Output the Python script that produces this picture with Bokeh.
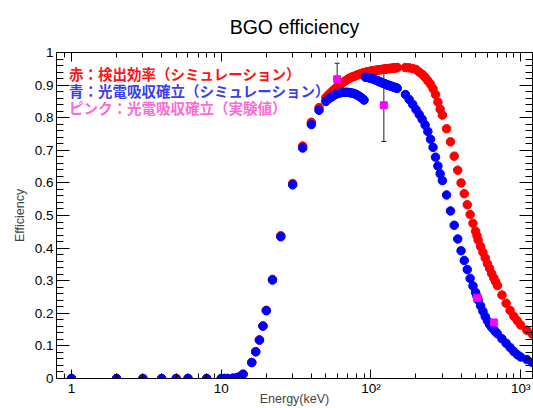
from bokeh.plotting import figure
from bokeh.models import (FixedTicker, Label, Whisker, ColumnDataSource, TeeHead,
                          LinearAxis, LogAxis, Range1d)
from bokeh.embed import file_html
from bokeh.resources import INLINE

# Simulated BGO response: energy grid (keV)
energy_keV = [1, 2, 3, 4, 5, 6, 8, 10, 10.5, 11, 12, 12.8, 13.4, 14, 16, 17, 18, 19, 20, 22, 25, 30, 35, 40, 45,
              50, 52, 54, 56, 58, 60, 62, 64, 66, 68, 70, 72, 74, 76, 78, 80, 82, 84, 86, 88, 90,
              92, 94, 96, 98, 100, 102, 104, 106, 108, 110, 112, 114, 116, 118, 120, 122, 124, 126, 128,
              130, 132, 134, 136, 138, 140, 142, 144, 146, 148, 150,
              170, 180, 190, 200, 210, 220, 230, 240, 250, 260, 270, 280, 290, 300,
              320, 340, 360, 380, 400, 420, 440, 460, 480, 500, 511, 520, 540, 560, 580, 600,
              620, 640, 662, 680, 700, 750, 800, 850, 900, 950, 1000, 1100, 1200]

# detection efficiency (red)
detect_eff = [0, 0, 0, 0, 0, 0, 0, 0, 0, 0, 0.001, 0.003, 0.006, 0.013, 0.049, 0.082, 0.118, 0.161, 0.209, 0.304, 0.438, 0.598, 0.713, 0.786, 0.831,
              0.862, 0.870, 0.877, 0.884, 0.890, 0.896, 0.901, 0.906, 0.910, 0.914, 0.918, 0.921, 0.924, 0.926, 0.928, 0.930, 0.932, 0.934, 0.935, 0.937, 0.938,
              0.939, 0.940, 0.941, 0.942, 0.943, 0.943, 0.944, 0.945, 0.945, 0.946, 0.946, 0.947, 0.947, 0.948, 0.948, 0.949, 0.949, 0.950, 0.950,
              0.950, 0.951, 0.951, 0.951, 0.952, 0.952, 0.952, 0.953, 0.953, 0.953, 0.954,
              0.954, 0.953, 0.951, 0.948, 0.940, 0.933, 0.924, 0.913, 0.903, 0.889, 0.871, 0.848, 0.826, 0.808,
              0.766, 0.726, 0.682, 0.639, 0.600, 0.567, 0.533, 0.503, 0.476, 0.452, 0.438, 0.425, 0.405, 0.387, 0.370, 0.352,
              0.338, 0.322, 0.308, 0.297, 0.285, 0.256, 0.231, 0.209, 0.191, 0.177, 0.164, 0.148, 0.136]

# photo-absorption probability (blue)
photo_eff = [0, 0, 0, 0, 0, 0, 0, 0, 0, 0, 0.001, 0.003, 0.006, 0.013, 0.049, 0.082, 0.118, 0.161, 0.208, 0.302, 0.435, 0.594, 0.707, 0.779, 0.823,
             0.850, 0.857, 0.862, 0.867, 0.871, 0.874, 0.876, 0.878, 0.878, 0.878, 0.878, 0.877, 0.876, 0.875, 0.873, 0.871, 0.868, 0.865, 0.862, 0.858, 0.854,
             0.924, 0.924, 0.923, 0.922, 0.921, 0.920, 0.918, 0.917, 0.915, 0.914, 0.912, 0.911, 0.909, 0.908, 0.906, 0.905, 0.904, 0.902, 0.901,
             0.900, 0.899, 0.898, 0.897, 0.896, 0.895, 0.894, 0.893, 0.892, 0.891, 0.890,
             0.871, 0.856, 0.841, 0.825, 0.810, 0.795, 0.778, 0.758, 0.734, 0.709, 0.679, 0.652, 0.628, 0.607,
             0.563, 0.514, 0.470, 0.428, 0.392, 0.362, 0.334, 0.307, 0.284, 0.264, 0.252, 0.241, 0.223, 0.206, 0.190, 0.177,
             0.166, 0.157, 0.150, 0.143, 0.137, 0.122, 0.108, 0.095, 0.083, 0.073, 0.066, 0.058, 0.049]

# measured photo-absorption (pink) with uncertainties
exp_energy = [59.5, 122, 511, 662]
exp_eff = [0.918, 0.838, 0.248, 0.172]
exp_err = [0.049, 0.111, 0.0, 0.0]

y_ticks = [0, 0.1, 0.2, 0.3, 0.4, 0.5, 0.6, 0.7, 0.8, 0.9, 1.0]
y_tick_labels = {0: "0", 0.1: "0.1", 0.2: "0.2", 0.3: "0.3", 0.4: "0.4", 0.5: "0.5",
                 0.6: "0.6", 0.7: "0.7", 0.8: "0.8", 0.9: "0.9", 1.0: "1"}
x_ticks = [1, 10, 100, 1000]
x_tick_labels = {1: "1", 10: "10", 100: "10\u00b2", 1000: "10\u00b3"}

legend_lines = ["赤：検出効率（シミュレーション）",
                "青：光電吸収確立（シミュレーション）",
                "ピンク：光電吸収確立（実験値）"]
legend_colors = ["#ff1414", "#3c3cf2", "#ff6ad2"]

FONT = "Liberation Sans"

p = figure(width=533, height=408, x_axis_type="log",
           x_range=Range1d(0.794, 1200), y_range=Range1d(0, 1),
           output_backend="svg", toolbar_location=None,
           min_border_left=56, min_border_right=1, min_border_top=52, min_border_bottom=30,
           background_fill_color="white", border_fill_color="white")

p.grid.visible = False
p.outline_line_color = "black"
p.outline_line_width = 1

minor_y = [round(0.02 * i, 2) for i in range(51)]
minor_x = [m * d for d in (0.1, 1, 10, 100) for m in range(2, 10)]
minor_x = [v for v in minor_x if 0.794 <= v <= 1200]


def style_y(ax, labels=True):
    ax.ticker = FixedTicker(ticks=y_ticks, minor_ticks=minor_y)
    ax.major_tick_in = 13
    ax.major_tick_out = 0
    ax.minor_tick_in = 7
    ax.minor_tick_out = 0
    ax.axis_line_color = "black"
    ax.major_tick_line_color = "black"
    ax.minor_tick_line_color = "black"
    if labels:
        ax.major_label_overrides = y_tick_labels
        ax.major_label_text_font = FONT
        ax.major_label_text_font_size = "13.5px"
        ax.major_label_text_color = "black"
        ax.major_label_standoff = 3
    else:
        ax.major_label_text_font_size = "1px"
        ax.major_label_text_color = None
        ax.major_label_standoff = 0


def style_x(ax, labels=True):
    ax.ticker = FixedTicker(ticks=x_ticks, minor_ticks=minor_x)
    ax.major_tick_in = 9
    ax.major_tick_out = 0
    ax.minor_tick_in = 5
    ax.minor_tick_out = 0
    ax.axis_line_color = "black"
    ax.major_tick_line_color = "black"
    ax.minor_tick_line_color = "black"
    if labels:
        ax.major_label_overrides = x_tick_labels
        ax.major_label_text_font = FONT
        ax.major_label_text_font_size = "13.5px"
        ax.major_label_text_color = "black"
        ax.major_label_standoff = 2
    else:
        ax.major_label_text_font_size = "1px"
        ax.major_label_text_color = None
        ax.major_label_standoff = 0


style_y(p.yaxis[0])
style_x(p.xaxis[0])
p.yaxis[0].axis_label = "Efficiency"
p.yaxis[0].axis_label_text_font = FONT
p.yaxis[0].axis_label_text_font_size = "12.5px"
p.yaxis[0].axis_label_text_font_style = "normal"
p.yaxis[0].axis_label_standoff = 5

# x title tucked up close to the tick labels so the bottom margin stays narrow
p.xaxis[0].axis_label = "Energy(keV)"
p.xaxis[0].axis_label_text_font = FONT
p.xaxis[0].axis_label_text_font_size = "12.5px"
p.xaxis[0].axis_label_text_font_style = "normal"
p.xaxis[0].axis_label_standoff = -7

right_ax = LinearAxis()
style_y(right_ax, labels=False)
p.add_layout(right_ax, "right")

# mirrored top ticks; the chart title rides on this axis
top_ax = LogAxis()
style_x(top_ax, labels=False)
top_ax.axis_label = "BGO efficiency"
top_ax.axis_label_text_font = FONT
top_ax.axis_label_text_font_size = "19.5px"
top_ax.axis_label_text_font_style = "normal"
top_ax.axis_label_text_color = "black"
top_ax.axis_label_standoff = 15
p.add_layout(top_ax, "above")

# simulation curves
p.scatter(energy_keV, detect_eff, marker="circle", size=8.5, fill_color="#ff0000", line_color="#ff0000")
p.scatter(energy_keV, photo_eff, marker="circle", size=8.5, fill_color="#0000ff", line_color="#0000ff")

# measurements with error bars
src = ColumnDataSource(dict(
    x=exp_energy, y=exp_eff,
    lo=[v - e for v, e in zip(exp_eff, exp_err)],
    hi=[v + e for v, e in zip(exp_eff, exp_err)],
))
p.add_layout(Whisker(source=src, base="x", lower="lo", upper="hi", dimension="height",
                     line_color="#222222", line_width=1,
                     lower_head=TeeHead(size=5, line_color="#222222", line_width=1),
                     upper_head=TeeHead(size=5, line_color="#222222", line_width=1)))
p.scatter("x", "y", source=src, marker="square", size=7, fill_color="#ff00ff", line_color="#ff00ff")

# colour key written as text
for i, (txt, col) in enumerate(zip(legend_lines, legend_colors)):
    p.add_layout(Label(x=0.962, y=0.936 - 0.053 * i, text=txt, text_color=col,
                       text_font="Noto Sans CJK JP", text_font_style="bold",
                       text_font_size="14.5px", text_baseline="middle", text_align="left"))

open("out.html", "w").write(file_html(p, INLINE))
